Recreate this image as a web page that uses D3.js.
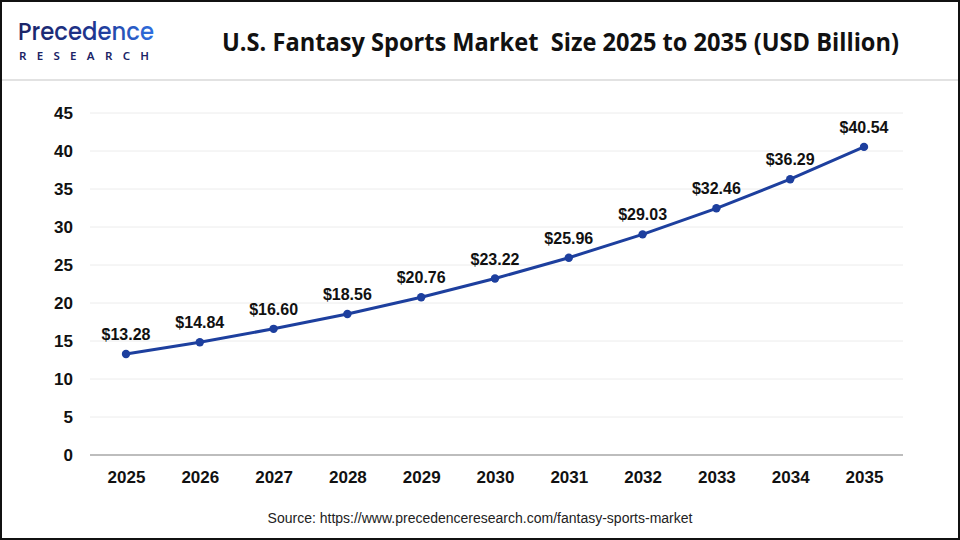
<!DOCTYPE html>
<html><head><meta charset="utf-8">
<script src="https://cdn.jsdelivr.net/npm/d3@7"></script>
<style>
html,body{margin:0;padding:0;background:#fff;}
svg{display:block;}
</style></head>
<body>
<svg id="c" width="960" height="540"></svg>
<script>
const years = ["2025","2026","2027","2028","2029","2030","2031","2032","2033","2034","2035"];
const values = [13.28,14.84,16.60,18.56,20.76,23.22,25.96,29.03,32.46,36.29,40.54];
const yTicks = [0,5,10,15,20,25,30,35,40,45];
const titleText = "U.S. Fantasy Sports Market  Size 2025 to 2035 (USD Billion)";
const sourceText = "Source: https://www.precedenceresearch.com/fantasy-sports-market";

const svg = d3.select("#c");
const W = 960, H = 540;

// header separator
svg.append("line").attr("x1",0).attr("x2",W).attr("y1",80).attr("y2",80)
  .attr("stroke","#d8d8d8").attr("stroke-width",1.5);

// logo
const logo = svg.append("g");
const grad = svg.append("defs").append("linearGradient").attr("id","lg").attr("x1","0").attr("x2","1");
grad.append("stop").attr("offset","0").attr("stop-color","#1b2466");
grad.append("stop").attr("offset","0.55").attr("stop-color","#1f3590");
grad.append("stop").attr("offset","1").attr("stop-color","#2f6fe0");
logo.append("text").attr("x",18).attr("y",40).text("Precedence")
  .attr("font-family","Poppins, 'Noto Sans', Lato, sans-serif").attr("font-size",24).attr("font-weight",500)
  .attr("fill","url(#lg)").attr("textLength",136).attr("lengthAdjust","spacingAndGlyphs");
logo.append("text").attr("x",19).attr("y",60).text("RESEARCH")
  .attr("font-family","'Noto Sans', Lato, sans-serif").attr("font-size",11.5).attr("font-weight",600)
  .attr("fill","#1b2466").attr("textLength",130).attr("lengthAdjust","spacing");

// title
svg.append("text").attr("x",222).attr("y",51).text(titleText)
  .style("white-space","pre")
  .attr("font-family","'Liberation Sans Narrow','Open Sans','Noto Sans',sans-serif")
  .attr("font-size",25).attr("font-weight",700).attr("fill","#111")
  .attr("textLength",677).attr("lengthAdjust","spacingAndGlyphs");

// scales
const x = d3.scalePoint().domain(years).range([126,864]);
const y = d3.scaleLinear().domain([0,45]).range([455,113]);

// grid
svg.append("g").selectAll("line").data(yTicks.filter(d=>d>0)).join("line")
  .attr("x1",90).attr("x2",903).attr("y1",d=>y(d)).attr("y2",d=>y(d))
  .attr("stroke","#ececec").attr("stroke-width",1);

// y axis labels
const yAxis = d3.axisLeft(y).tickValues(yTicks).tickSize(0).tickPadding(0).tickFormat(d3.format("d"));
const gy = svg.append("g").attr("transform","translate(73,0)").call(yAxis);
gy.select(".domain").remove();
gy.selectAll("text").attr("font-family","'Liberation Sans',Arial,sans-serif").attr("font-size",17)
  .attr("font-weight",700).attr("fill","#111").attr("text-anchor","end").attr("dy","0.35em");

// x axis
const xAxis = d3.axisBottom(x).tickSize(0).tickPadding(16);
const gx = svg.append("g").attr("transform",`translate(0,${y(0)})`).call(xAxis);
gx.select(".domain").remove();
gx.selectAll("text").attr("font-family","'Liberation Sans',Arial,sans-serif").attr("font-size",17)
  .attr("font-weight",700).attr("fill","#111");
svg.append("line").attr("x1",90).attr("x2",903).attr("y1",y(0)).attr("y2",y(0))
  .attr("stroke","#bdbdbd").attr("stroke-width",2);

// line
const color = "#1d3f9e";
svg.append("path").datum(values.map((v,i)=>[years[i],v]))
  .attr("d", d3.line().x(d=>x(d[0])).y(d=>y(d[1])))
  .attr("fill","none").attr("stroke",color).attr("stroke-width",3);
svg.append("g").selectAll("circle").data(values).join("circle")
  .attr("cx",(d,i)=>x(years[i])).attr("cy",d=>y(d)).attr("r",4.2).attr("fill",color);

// labels
svg.append("g").selectAll("text").data(values).join("text")
  .attr("x",(d,i)=>x(years[i])).attr("y",d=>y(d)-14)
  .attr("text-anchor","middle").text(d=>"$"+d.toFixed(2))
  .attr("font-family","'Liberation Sans',Arial,sans-serif").attr("font-size",16)
  .attr("font-weight",700).attr("fill","#111");

// source
svg.append("text").attr("x",480).attr("y",523).attr("text-anchor","middle").text(sourceText)
  .attr("font-family","'Liberation Sans',Arial,sans-serif").attr("font-size",14).attr("fill","#222");

// border
svg.append("rect").attr("x",1).attr("y",1).attr("width",W-2).attr("height",H-2)
  .attr("fill","none").attr("stroke","#111").attr("stroke-width",2);
</script>
</body></html>
